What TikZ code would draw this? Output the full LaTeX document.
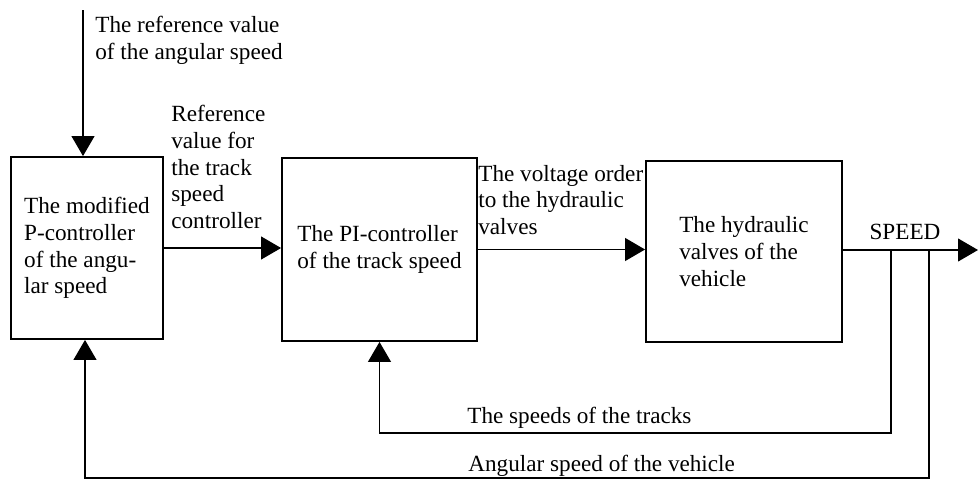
\documentclass[tikz,border=0pt]{standalone}
\usepackage{fontspec}
\setmainfont{Liberation Serif}
\usetikzlibrary{arrows.meta, positioning, calc}
\tikzset{
    base/.style = {
        draw=black, line width=1.1pt, align=left, inner sep=0pt,
        font=\fontsize{13.2}{15.2}\selectfont
    },
    % Blocks
    ctrl/.style  = {base, rectangle, minimum width=3.04cm, minimum height=3.64cm},
    plant/.style = {base, rectangle, minimum width=3.92cm, minimum height=3.62cm},
    % Signals and their labels
    arrow/.style = {line width=0.6pt, -{Triangle[length=0.4cm, width=0.46cm]}},
    annotation/.style = {font=\fontsize{13.2}{15.2}\selectfont, align=left, inner sep=0pt}
}

\begin{document}
\begin{tikzpicture}[x=0.02cm, y=-0.02cm]
    \useasboundingbox (0,0) rectangle (978,480);

    % The three blocks
    \node (pctrl) [ctrl] at (87,248) {The modified\\P-controller\\of the angu-\\lar speed};
    \node (pictrl) [ctrl, minimum width=3.9cm, minimum height=3.66cm] at (379.5,249.5) {The PI-controller\\of the track speed};
    \node (valves) [plant] at (744,251.5) {The hydraulic\\valves of the\\vehicle};

    % Free ends and branch points
    \coordinate (ref) at (83,10);
    \coordinate (out) at (978,250);
    \coordinate (b1) at (891,250);
    \coordinate (b2) at (929,250);
    \coordinate (tk) at (0,433);
    \coordinate (ang) at (0,478);

    % Labels
    \node (reflbl) [annotation, anchor=west] at (95,40) {The reference value\\of the angular speed};
    \node (trklbl) [annotation, anchor=west] at (171,167) {Reference\\value for\\the track\\speed\\controller};
    \node (voltlbl) [annotation, anchor=west] at (478,200) {The voltage order\\to the hydraulic\\valves};
    \node (speedlbl) [annotation] at (905,232) {SPEED};
    \node (tracks) [annotation, anchor=west] at (467,418) {The speeds of the tracks};
    \node (angular) [annotation, anchor=west] at (468,466) {Angular speed of the vehicle};

    % Forward path
    \draw [arrow] (ref) -- (ref |- pctrl.north);
    \draw [arrow] (pctrl.east) -- (pctrl.east -| pictrl.west);
    \draw [arrow] (pictrl.east) -- (pictrl.east -| valves.west);
    \draw [arrow] (valves.east |- out) -- (out);

    % Feedback loops
    \draw [arrow] (b1) -- (b1 |- tk) -| (pictrl.south);
    \draw [arrow] (b2) -- (b2 |- ang) -| ($(pctrl.south)+(-2,0)$);
\end{tikzpicture}
\end{document}
